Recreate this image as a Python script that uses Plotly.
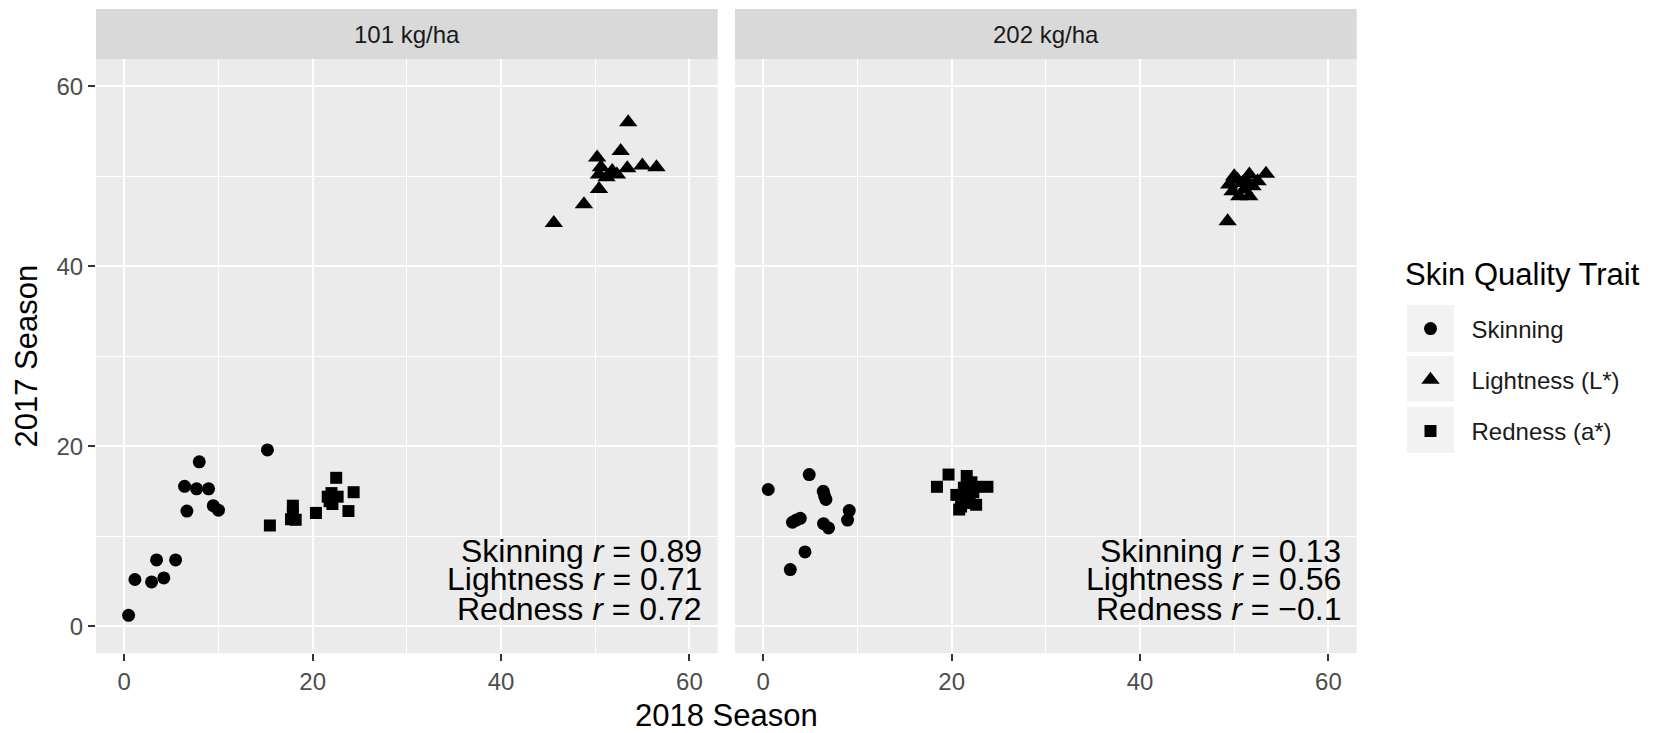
import plotly.graph_objects as go

W, H = 1665, 733

# ---------------- data ----------------
panels = ["101 kg/ha", "202 kg/ha"]
traits = ["Skinning", "Lightness (L*)", "Redness (a*)"]
symbols = {"Skinning": "circle", "Lightness (L*)": "triangle-up", "Redness (a*)": "square"}
sizes = {"Skinning": 13, "Lightness (L*)": 16, "Redness (a*)": 12}

# 101 kg/ha
skin101_x = [0.46, 1.13, 2.9, 4.2, 3.43, 5.45, 6.65, 6.4, 7.68, 8.95, 7.96, 9.45, 10.0, 15.2]
skin101_y = [1.22, 5.2, 4.93, 5.37, 7.37, 7.37, 12.8, 15.55, 15.27, 15.27, 18.27, 13.4, 12.9, 19.6]
light101_x = [53.5, 52.7, 50.2, 51.8, 50.4, 53.4, 55.0, 56.5, 50.4, 48.8, 45.6, 51.2, 52.3, 50.6]
light101_y = [56.0, 52.8, 52.1, 50.6, 50.2, 50.9, 51.2, 51.0, 48.6, 46.9, 44.8, 49.9, 50.2, 51.0]
red101_x = [15.46, 17.9, 17.7, 18.2, 20.35, 22.5, 21.6, 22.65, 22.1, 24.35, 23.8, 17.9, 22.0, 21.8]
red101_y = [11.2, 13.4, 11.9, 11.85, 12.6, 16.5, 14.4, 14.4, 13.6, 14.9, 12.8, 12.6, 14.8, 13.9]

# 202 kg/ha
skin202_x = [0.53, 4.88, 6.37, 6.65, 9.13, 8.95, 3.93, 3.1, 6.4, 6.93, 4.43, 2.87, 6.5, 3.5]
skin202_y = [15.2, 16.86, 15.0, 14.1, 12.86, 11.8, 12.0, 11.56, 11.4, 10.93, 8.26, 6.3, 14.5, 11.8]
light202_x = [49.3, 53.37, 50.35, 51.6, 49.47, 50.88, 49.82, 51.06, 51.94, 50.53, 51.6, 52.48, 50.0, 51.24]
light202_y = [45.0, 50.27, 49.63, 50.19, 49.08, 49.26, 48.33, 48.52, 48.89, 47.78, 47.78, 49.44, 50.0, 49.63]
red202_x = [19.67, 18.44, 21.6, 23.8, 22.6, 20.5, 21.7, 22.6, 20.8, 21.9, 21.3, 22.1, 21.0, 22.3]
red202_y = [16.86, 15.5, 16.7, 15.5, 15.5, 14.6, 14.3, 13.5, 12.97, 13.7, 15.4, 16.0, 13.3, 14.9]

data = {
    "101 kg/ha": {"Skinning": (skin101_x, skin101_y),
                  "Lightness (L*)": (light101_x, light101_y),
                  "Redness (a*)": (red101_x, red101_y)},
    "202 kg/ha": {"Skinning": (skin202_x, skin202_y),
                  "Lightness (L*)": (light202_x, light202_y),
                  "Redness (a*)": (red202_x, red202_y)},
}

corr_labels = {
    "101 kg/ha": ["Skinning <i>r</i> = 0.89", "Lightness <i>r</i> = 0.71", "Redness <i>r</i> = 0.72"],
    "202 kg/ha": ["Skinning <i>r</i> = 0.13", "Lightness <i>r</i> = 0.56", "Redness <i>r</i> = −0.1"],
}

x_ticks = [0, 20, 40, 60]
y_ticks = [0, 20, 40, 60]
axis_range = [-3, 63]

# ---------------- layout helpers ----------------
FONT = "Liberation Sans, Arial, Helvetica, sans-serif"
def px(x):
    return x / W
def py(y):
    return 1 - y / H

left_dom = [px(96), px(717.7)]
right_dom = [px(735), px(1356.7)]
y_dom = [py(653.3), py(59.3)]

fig = go.Figure()
for pi, panel in enumerate(panels):
    xa = "x" if pi == 0 else "x2"
    ya = "y" if pi == 0 else "y2"
    for t in traits:
        xs, ys = data[panel][t]
        fig.add_trace(go.Scatter(
            x=xs, y=ys, mode="markers", xaxis=xa, yaxis=ya,
            name=t, legendgroup=t, showlegend=(pi == 0),
            marker=dict(symbol=symbols[t], size=sizes[t], color="black",
                        line=dict(width=0)),
            hoverinfo="skip",
        ))

axis_common = dict(
    range=axis_range, tickvals=x_ticks, ticks="outside", ticklen=7, tickwidth=2,
    tickcolor="#333333", showgrid=True, gridcolor="white", gridwidth=2,
    zeroline=False, showline=False,
    tickfont=dict(family=FONT, size=24, color="#4D4D4D"),
    minor=dict(dtick=10, tick0=0, showgrid=True, gridcolor="white", gridwidth=1, ticks=""),
)

fig.update_layout(
    width=W, height=H,
    margin=dict(l=0, r=0, t=0, b=0),
    paper_bgcolor="white", plot_bgcolor="#EBEBEB",
    font=dict(family=FONT, color="black"),
    xaxis=dict(domain=left_dom, anchor="y", **axis_common),
    xaxis2=dict(domain=right_dom, anchor="y2", **axis_common),
    yaxis=dict(domain=y_dom, anchor="x", **{**axis_common, "tickvals": y_ticks}),
    yaxis2=dict(domain=y_dom, anchor="x2", matches="y",
                **{**axis_common, "tickvals": y_ticks, "showticklabels": False, "ticks": ""}),
    legend=dict(
        x=px(1389.5), y=py(306.5), xanchor="left", yanchor="top",
        font=dict(family=FONT, size=24, color="#1A1A1A"),
        tracegroupgap=17, itemwidth=72, bgcolor="rgba(0,0,0,0)",
        itemsizing="trace",
    ),
    showlegend=True,
)

shapes = []
annotations = []
# strips
for dom, label in zip([left_dom, right_dom], panels):
    shapes.append(dict(type="rect", xref="paper", yref="paper",
                       x0=dom[0], x1=dom[1], y0=py(59.3), y1=py(9),
                       fillcolor="#D9D9D9", line=dict(width=0), layer="below"))
    annotations.append(dict(xref="paper", yref="paper", x=(dom[0] + dom[1]) / 2,
                            y=py(34), text=label, showarrow=False,
                            xanchor="center", yanchor="middle",
                            font=dict(family=FONT, size=24, color="#1A1A1A")))

# legend title and key backgrounds
annotations.append(dict(xref="paper", yref="paper", x=px(1403), y=py(274),
                        text="Skin Quality Trait", showarrow=False,
                        xanchor="left", yanchor="middle",
                        font=dict(family=FONT, size=31, color="black")))
for y0, y1 in [(305, 351.7), (356, 401.7), (406.7, 452.7)]:
    shapes.append(dict(type="rect", xref="paper", yref="paper",
                       x0=px(1407), x1=px(1454), y0=py(y1), y1=py(y0),
                       fillcolor="#F2F2F2", line=dict(width=0), layer="below"))

# correlation text
line_y = [8.33, 5.3, 1.97]
for pi, panel in enumerate(panels):
    xa = "x" if pi == 0 else "x2"
    ya = "y" if pi == 0 else "y2"
    for txt, yy in zip(corr_labels[panel], line_y):
        annotations.append(dict(xref=xa, yref=ya, x=61.5, y=yy, text=txt,
                                showarrow=False, xanchor="right", yanchor="middle",
                                font=dict(family=FONT, size=32, color="black")))

# axis titles
annotations.append(dict(xref="paper", yref="paper", x=px(726), y=py(715),
                        text="2018 Season", showarrow=False, xanchor="center",
                        yanchor="middle", font=dict(family=FONT, size=31, color="black")))
annotations.append(dict(xref="paper", yref="paper", x=px(26), y=py(356.5),
                        text="2017 Season", showarrow=False, textangle=-90,
                        xanchor="center", yanchor="middle",
                        font=dict(family=FONT, size=31, color="black")))

fig.update_layout(shapes=shapes, annotations=annotations)
fig.write_html("out.html")
